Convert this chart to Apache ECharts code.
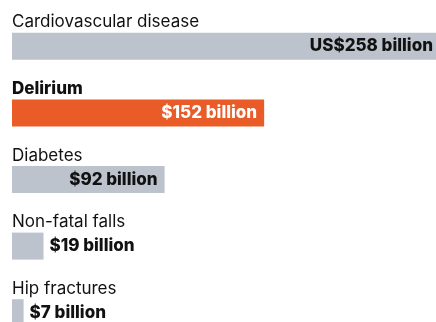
<!DOCTYPE html>
<html>
<head>
<meta charset="utf-8">
<script src="https://cdn.jsdelivr.net/npm/echarts@6/dist/echarts.min.js"></script>
<style>
html,body{margin:0;padding:0;background:#fff;}
#c{width:436px;height:322px;}
</style>
</head>
<body>
<div id="c"></div>
<script>
var categories = ["Cardiovascular disease", "Delirium", "Diabetes", "Non-fatal falls", "Hip fractures"];
var values = [258, 152, 92, 19, 7];
var valueLabels = ["US$258 billion", "$152 billion", "$92 billion", "$19 billion", "$7 billion"];
var highlight = "Delirium";

var GREY = "#bcc3cd", ORANGE = "#e95c28", FONT = "Inter, 'Noto Sans', sans-serif";

var chart = echarts.init(document.getElementById('c'), null, {renderer: 'canvas'});

var barData = values.map(function (v, i) {
  var isHi = categories[i] === highlight;
  var inside = v > 50;
  return {
    value: v,
    itemStyle: {color: isHi ? ORANGE : GREY},
    label: {
      show: true,
      position: inside ? 'insideRight' : 'right',
      distance: inside ? 7 : 6,
      formatter: valueLabels[i],
      color: isHi ? '#ffffff' : '#111111',
      fontWeight: 800,
      fontSize: 17,
      fontFamily: FONT
    }
  };
});

var nameData = values.map(function (v, i) {
  var isHi = categories[i] === highlight;
  return {
    value: v,
    label: {
      show: true,
      position: [0, -2],
      align: 'left',
      verticalAlign: 'bottom',
      formatter: categories[i],
      color: '#111111',
      fontWeight: isHi ? 800 : 'normal',
      fontSize: 17,
      fontFamily: FONT
    }
  };
});

chart.setOption({
  animation: false,
  grid: {left: 12, top: 13, width: 428, height: 333, containLabel: false, outerBoundsMode: 'none'},
  xAxis: {type: 'value', min: 0, max: 258, show: false},
  yAxis: {type: 'category', data: categories, inverse: true, show: false},
  series: [
    {type: 'bar', data: barData, barWidth: 27, clip: false, silent: true},
    {type: 'bar', data: nameData, barWidth: 27, barGap: '-100%', clip: false, silent: true,
     itemStyle: {color: 'rgba(0,0,0,0)'}}
  ]
});
</script>
</body>
</html>
